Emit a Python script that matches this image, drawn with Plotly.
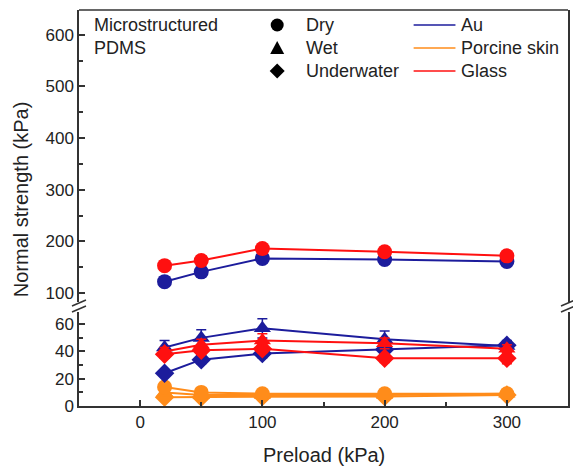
import plotly.graph_objects as go

# ---------------- data ----------------
preload = [20, 50, 100, 200, 300]

au_dry = [122, 141, 167, 165, 161]
au_dry_err = [9, 7, 8, 8, 7]
glass_dry = [153, 163, 186, 180, 172]
glass_dry_err = [8, 9, 8, 8, 7]

au_wet = [43, 50, 57, 49, 44]
au_wet_err = [5, 6, 7, 6, 4]
glass_wet = [40, 45, 48, 46, 42]
glass_wet_err = [3, 4, 5, 4, 3]

au_under = [24, 34, 38.5, 41.5, 44.5]
au_under_err = [2, 3, 3, 3, 3]
glass_under = [38, 41, 42, 35, 35]
glass_under_err = [3, 3, 3, 3, 4]

skin_dry = [14, 10, 9, 9, 9]
skin_wet = [10, 8, 8, 8, 9]
skin_under = [6.5, 6.5, 7, 7, 8]
skin_err = [1, 1, 1, 1, 1]

lower_ticks = [0, 20, 40, 60]
upper_ticks = [100, 200, 300, 400, 500, 600]
x_ticks = [0, 100, 200, 300]

condition_names = ["Dry", "Wet", "Underwater"]
condition_symbols = ["circle", "triangle", "diamond"]
substrate_names = ["Au", "Porcine skin", "Glass"]

BLUE = "#1c1c9c"
RED = "#ff1010"
ORANGE = "#ff8c1a"
substrate_colors = [BLUE, ORANGE, RED]
AXC = "#333333"
TXT = "#222222"
FONT = "Liberation Sans, Arial, sans-serif"

# plot-area geometry (pixels)
W, H = 573, 471
L, R, T, B = 79, 3, 10, 65
PW, PH = W - L - R, H - T - B


def px(xp):
    return (xp - L) / PW


def py(yp):
    return (H - B - yp) / PH


fig = go.Figure()


def add(y, err, color, symbol, yaxis="y", size=15):
    fig.add_trace(go.Scatter(
        x=preload, y=y, xaxis="x", yaxis=yaxis, mode="lines+markers",
        line=dict(color=color, width=2),
        marker=dict(color=color, symbol=symbol, size=size),
        error_y=dict(type="data", array=err, color=color, thickness=1.5, width=5),
        showlegend=False, hoverinfo="skip"))


# porcine skin (bottom)
add(skin_under, skin_err, ORANGE, "diamond")
add(skin_wet, skin_err, ORANGE, "triangle-up")
add(skin_dry, skin_err, ORANGE, "circle")
# Au lower
add(au_under, au_under_err, BLUE, "diamond")
add(au_wet, au_wet_err, BLUE, "triangle-up")
# Glass lower
add(glass_under, glass_under_err, RED, "diamond")
add(glass_wet, glass_wet_err, RED, "triangle-up")
# upper (dry)
add(au_dry, au_dry_err, BLUE, "circle", yaxis="y2")
add(glass_dry, glass_dry_err, RED, "circle", yaxis="y2")

axis_common = dict(showline=True, linecolor=AXC, linewidth=1.5, showgrid=False,
                   zeroline=False, ticks="inside", ticklen=6, tickwidth=1.5,
                   tickcolor=AXC, tickfont=dict(size=17, color=TXT, family=FONT))
minor_common = dict(ticks="inside", ticklen=4, tickcolor=AXC, tickwidth=1.5)

fig.update_layout(
    width=W, height=H,
    margin=dict(l=L, r=R, t=T, b=B),
    paper_bgcolor="white", plot_bgcolor="white",
    font=dict(family=FONT, color=TXT),
    showlegend=False,
    xaxis=dict(range=[-50, 350], tickvals=x_ticks, anchor="y",
               minor=dict(tickvals=[50, 150, 250], **minor_common), **axis_common),
    yaxis=dict(range=[0, 69], domain=[0, 0.2374], tickvals=lower_ticks, mirror=True,
               minor=dict(tickvals=[10, 30, 50], **minor_common), **axis_common),
    yaxis2=dict(range=[82.6, 648], domain=[0.2626, 1], tickvals=upper_ticks,
                anchor="x", mirror=True,
                minor=dict(tickvals=[150, 250, 350, 450, 550], **minor_common),
                **axis_common),
)

# top border
fig.add_shape(type="line", xref="paper", yref="paper", x0=0, x1=1, y0=1, y1=1,
              line=dict(color=AXC, width=1.5))
# break marks on both sides
for xa in [0, 1]:
    for dy in [0, 6]:
        fig.add_shape(type="line", xref="paper", yref="paper",
                      xsizemode="pixel", ysizemode="pixel", xanchor=xa, yanchor=0.25,
                      x0=-7, x1=7, y0=-5 + dy, y1=1 + dy,
                      line=dict(color=AXC, width=1.5))

# ---- legend block (keys + labels) ----
rows_y = [25, 48, 71]
sym_paths = {
    "triangle": "M -7 -6 L 7 -6 L 0 7 Z",
    "diamond": "M 0 -7.5 L 7.5 0 L 0 7.5 L -7.5 0 Z",
}
for name, sym, yy in zip(condition_names, condition_symbols, rows_y):
    if sym == "circle":
        fig.add_shape(type="circle", xref="paper", yref="paper",
                      xsizemode="pixel", ysizemode="pixel",
                      xanchor=px(278), yanchor=py(yy), x0=-6.5, x1=6.5, y0=-6.5, y1=6.5,
                      fillcolor="black", line=dict(color="black", width=0))
    else:
        fig.add_shape(type="path", xref="paper", yref="paper",
                      xsizemode="pixel", ysizemode="pixel",
                      xanchor=px(278), yanchor=py(yy), path=sym_paths[sym],
                      fillcolor="black", line=dict(color="black", width=0))
    fig.add_annotation(text=name, xref="paper", yref="paper", x=px(305), y=py(yy),
                       xanchor="left", yanchor="middle", showarrow=False,
                       font=dict(size=18, family=FONT, color=TXT))

for name, col, yy in zip(substrate_names, substrate_colors, rows_y):
    fig.add_shape(type="line", xref="paper", yref="paper",
                  x0=px(415), x1=px(457), y0=py(yy), y1=py(yy),
                  line=dict(color=col, width=1.5))
    fig.add_annotation(text=name, xref="paper", yref="paper", x=px(461), y=py(yy),
                       xanchor="left", yanchor="middle", showarrow=False,
                       font=dict(size=18, family=FONT, color=TXT))

fig.add_annotation(text="Microstructured", xref="paper", yref="paper",
                   x=px(92), y=py(25), xanchor="left", yanchor="middle",
                   showarrow=False, font=dict(size=18, family=FONT, color=TXT))
fig.add_annotation(text="PDMS", xref="paper", yref="paper",
                   x=px(92), y=py(48), xanchor="left", yanchor="middle",
                   showarrow=False, font=dict(size=18, family=FONT, color=TXT))
fig.add_annotation(text="Normal strength (kPa)", xref="paper", yref="paper",
                   x=px(21), y=py(199), textangle=-90, xanchor="center", yanchor="middle",
                   showarrow=False, font=dict(size=20, family=FONT, color=TXT))
fig.add_annotation(text="Preload (kPa)", xref="paper", yref="paper",
                   x=px(325), y=py(455), xanchor="center", yanchor="middle",
                   showarrow=False, font=dict(size=20, family=FONT, color=TXT))

fig.write_html("out.html", config={"displayModeBar": False},
               post_script="document.body.style.margin='0';")
